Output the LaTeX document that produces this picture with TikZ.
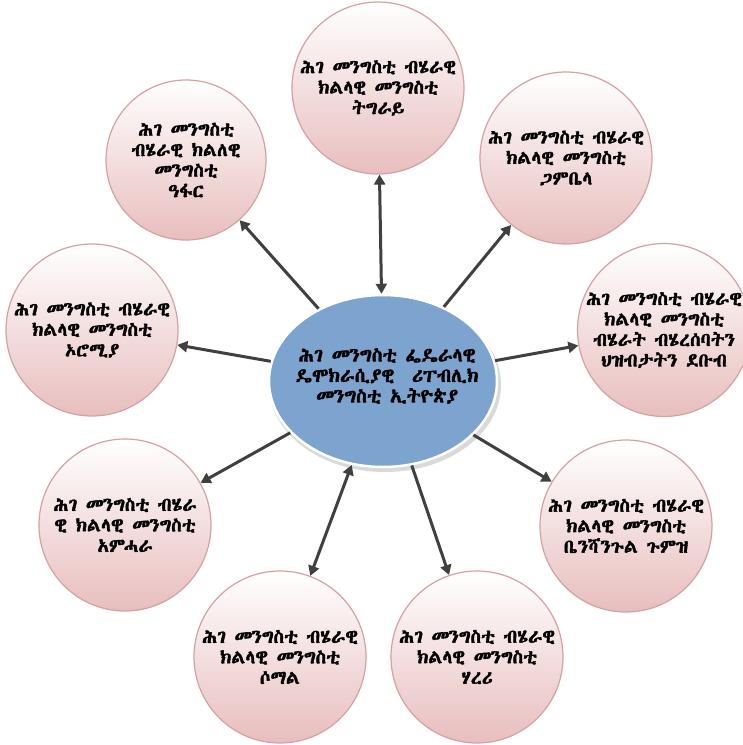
\documentclass[tikz,border=0pt]{standalone}
\usepackage{fontspec}
\IfFontExistsTF{Abyssinica SIL}{\newfontfamily\ethfont[FakeBold=2]{Abyssinica SIL}}{%
 \IfFontExistsTF{Noto Sans Ethiopic}{\newfontfamily\ethfont[FakeBold=2]{Noto Sans Ethiopic}}{%
  \IfFontExistsTF{FreeSerif}{\newfontfamily\ethfont[FakeBold=2]{FreeSerif}}{%
   \newfontfamily\ethfont{DejaVu Sans}}}}
\usetikzlibrary{arrows.meta,shapes.geometric}
\definecolor{rimpink}{RGB}{214,160,160}
\definecolor{basepink}{RGB}{232,190,190}
\definecolor{midblue}{RGB}{125,163,207}
\definecolor{arrowgray}{RGB}{64,64,64}
\tikzset{
  region/.style={circle, minimum size=172pt, inner sep=0pt, draw=rimpink, line width=1.2pt,
    top color=white, bottom color=basepink, align=center, font=\ethfont\fontsize{19}{20.5}\selectfont},
  hub/.style={ellipse, minimum width=228pt, minimum height=172pt, inner sep=0pt, fill=midblue,
    draw=white, line width=2.5pt},
  hubtext/.style={align=center, inner sep=0pt, font=\ethfont\fontsize{19.5}{20.5}\selectfont},
  link/.style={draw=arrowgray, line width=3pt, -{Triangle[length=10pt,width=11pt]}},
  biglink/.style={draw=arrowgray, line width=3pt, {Triangle[length=10pt,width=11pt]}-{Triangle[length=10pt,width=11pt]}}
}
\begin{document}
\begin{tikzpicture}[x=1pt,y=-1pt]
\useasboundingbox (0,0) rectangle (743,745);
\fill[white] (0,0) rectangle (743,745);
% hub shadow rim
\fill[gray!30] (385,385) ellipse [x radius=116, y radius=87];
\node[hub] (hub) at (383,381) {};
\node[hubtext] (hubtxt) at (387,376) {ሕገ መንግስቲ ፌዴራላዊ\\ዴሞክራሲያዊ~~ሪፐብሊክ\\መንግስቲ ኢትዮጵያ};
\node[region] (tig) at (378,88) {ሕገ መንግስቲ ብሄራዊ\\ክልላዊ መንግስቲ\\ትግራይ};
\node[region, minimum size=160pt] (afar) at (186,160) {ሕገ መንግስቲ\\ብሄራዊ ክልለዊ\\መንግስቲ\\ዓፋር};
\node[region] (gam) at (566,158) {ሕገ መንግስቲ ብሄራዊ\\ክልላዊ መንግስቲ\\ጋምቤላ};
\node[region] (oro) at (92,330) {ሕገ መንግስቲ ብሄራዊ\\ክልላዊ መንግስቲ\\ኦሮሚያ};
\node[region, minimum size=170pt] (snn) at (664,330) {ሕገ መንግስቲ ብሄራዊ\\ክልላዊ መንግስቲ\\ብሄራት ብሄረሰባትን\\ህዝብታትን ደቡብ};
\node[region] (amh) at (125,525) {ሕገ መንግስቲ ብሄራ\\ዊ ክልላዊ መንግስቲ\\አምሓራ};
\node[region] (ben) at (626,526) {ሕገ መንግስቲ ብሄራዊ\\ክልላዊ መንግስቲ\\ቤንሻንጉል ጉምዝ};
\node[region] (som) at (280,657) {ሕገ መንግስቲ ብሄራዊ\\ክልላዊ መንግስቲ\\ሶማል};
\node[region] (har) at (477,657) {ሕገ መንግስቲ ብሄራዊ\\ክልላዊ መንግስቲ\\ሃረሪ};
% connectors
\draw[biglink] (hub) -- (tig);
\draw[link] (hub) -- (afar);
\draw[link] (hub) -- (gam);
\draw[link] (hub) -- (oro);
\draw[link] (hub) -- (snn);
\draw[link] (hub) -- (amh);
\draw[link] (hub) -- (ben);
\draw[biglink] (hub) -- (som);
\draw[link] (hub) -- (har);
\end{tikzpicture}
\end{document}
